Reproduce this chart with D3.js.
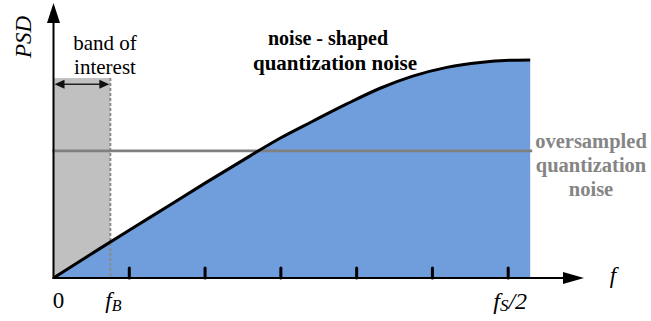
<!DOCTYPE html>
<html>
<head>
<meta charset="utf-8">
<script src="https://cdn.jsdelivr.net/npm/d3@7"></script>
</head>
<body style="margin:0">
<script>
// frequency in units of fs/12, PSD in arbitrary units
var freq = [0, 0.6, 1.3, 2.0, 2.6, 3.0, 3.42, 3.87, 4.31, 4.74, 5.19, 5.63, 6.06, 6.29];
var psd  = [0, 1.05, 2.25, 3.45, 4.45, 5.1, 5.7, 6.33, 6.9, 7.34, 7.66, 7.84, 7.92, 7.93];
var tickFreqs = [1, 2, 3, 4, 5, 6];
var fB = 0.75;
var fHalf = 6;
var flatLevel = 4.62;   // oversampled quantization noise
var bandTop = 7.27;

const WIDTH = 651, HEIGHT = 321;
const SERIF = "'Liberation Serif'";

const svg = d3.select("body").append("svg")
      .attr("width", WIDTH)
      .attr("height", HEIGHT);

const x = d3.scaleLinear().domain([0, 7]).range([53.5, 584]);
const y = d3.scaleLinear().domain([0, 10]).range([278, 3]);

const pts = freq.map((f, i) => ({ f: f, p: psd[i] }));

// band of interest box
svg.append("rect")
      .attr("x", x(0))
      .attr("y", y(bandTop))
      .attr("width", x(fB) - x(0))
      .attr("height", y(0) - y(bandTop))
      .attr("fill", "#c0c0c0");

// noise-shaped area
const area = d3.area()
      .x(d => x(d.f))
      .y0(y(0))
      .y1(d => y(d.p))
      .curve(d3.curveMonotoneX);

svg.append("path")
      .datum(pts)
      .attr("d", area)
      .attr("fill", "#709ddb");

// dotted fB line
svg.append("line")
      .attr("x1", x(fB)).attr("x2", x(fB))
      .attr("y1", y(bandTop)).attr("y2", y(0))
      .attr("stroke", "#8a8a8a")
      .attr("stroke-width", 2)
      .attr("stroke-dasharray", "3,2");

// oversampled flat noise
svg.append("line")
      .attr("x1", x(0) - 1).attr("x2", x(freq[freq.length - 1]) + 2)
      .attr("y1", y(flatLevel)).attr("y2", y(flatLevel))
      .attr("stroke", "#808080")
      .attr("stroke-width", 2.8);

// noise-shaped curve
const line = d3.line()
      .x(d => x(d.f))
      .y(d => y(d.p))
      .curve(d3.curveMonotoneX);

svg.append("path")
      .datum(pts)
      .attr("d", line)
      .attr("fill", "none")
      .attr("stroke", "#000")
      .attr("stroke-width", 3);

// ticks
svg.selectAll(".tick")
      .data(tickFreqs)
      .enter().append("line")
      .attr("x1", d => x(d)).attr("x2", d => x(d))
      .attr("y1", y(0) - 10).attr("y2", y(0))
      .attr("stroke", "#000")
      .attr("stroke-width", 3)
      .attr("stroke-linecap", "round");

// axes
svg.append("line")
      .attr("x1", x(0)).attr("x2", x(0))
      .attr("y1", y(0) + 1).attr("y2", y(10) + 15)
      .attr("stroke", "#000").attr("stroke-width", 2);
svg.append("line")
      .attr("x1", x(0) - 1).attr("x2", x(7) - 18)
      .attr("y1", y(0)).attr("y2", y(0))
      .attr("stroke", "#000").attr("stroke-width", 2);

// arrow heads
svg.append("path")
      .attr("d", `M${x(0)},${y(10)} L${x(0) - 6.5},${y(10) + 20} L${x(0) + 6.5},${y(10) + 20} Z`)
      .attr("fill", "#000");
svg.append("path")
      .attr("d", `M${x(7)},${y(0)} L${x(7) - 21},${y(0) - 6} L${x(7) - 21},${y(0) + 6} Z`)
      .attr("fill", "#000");

// double arrow for band of interest
const ay = y(7.05);
svg.append("line")
      .attr("x1", x(0) + 4).attr("x2", x(fB) - 4)
      .attr("y1", ay).attr("y2", ay)
      .attr("stroke", "#222").attr("stroke-width", 1.5);
svg.append("path")
      .attr("d", `M${x(0) + 1},${ay} L${x(0) + 11},${ay - 4.5} L${x(0) + 11},${ay + 4.5} Z`)
      .attr("fill", "#111");
svg.append("path")
      .attr("d", `M${x(fB) - 1},${ay} L${x(fB) - 11},${ay - 4.5} L${x(fB) - 11},${ay + 4.5} Z`)
      .attr("fill", "#111");

// labels
function label(tx, ty, str, size) {
      return svg.append("text")
            .attr("x", tx).attr("y", ty)
            .attr("text-anchor", "middle")
            .style("font-family", SERIF)
            .style("font-size", size + "px")
            .text(str);
}

label(0, 0, "PSD", 23)
      .attr("x", null).attr("y", null)
      .attr("transform", "translate(31, 37) rotate(-90)")
      .style("font-style", "italic");

label(105, 50, "band of", 21);
label(105, 74, "interest", 21);

label(328, 45, "noise - shaped", 20).style("font-weight", "bold");
label(335, 70, "quantization noise", 21).style("font-weight", "bold");

const grayLabel = ["oversampled", "quantization", "noise"];
grayLabel.forEach((d, i) => {
      label(591, 148 + i * 24, d, 20.5)
            .style("font-weight", "bold")
            .attr("fill", "#858585");
});

label(x(0) + 5, 308, "0", 23);

const fbText = label(x(fB) - 5, 308, "", 23)
      .attr("text-anchor", "start")
      .style("font-style", "italic");
fbText.append("tspan").text("f");
fbText.append("tspan").style("font-size", "16px").attr("dy", 3).text("B");

const fsText = label(x(fHalf) + 2, 309, "", 24)
      .style("font-style", "italic");
fsText.append("tspan").text("f");
fsText.append("tspan").style("font-size", "17px").attr("dy", 2).text("S");
fsText.append("tspan").attr("dy", -2).text("/2");

label(613, 283, "f", 23).style("font-style", "italic");
</script>
</body>
</html>
